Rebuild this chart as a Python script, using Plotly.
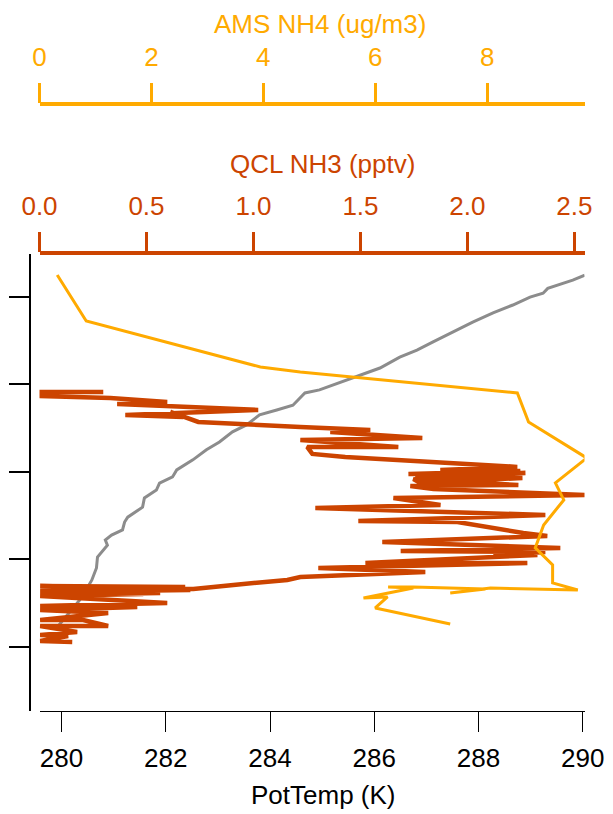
import plotly.graph_objects as go

# ---------------- data ----------------
# Potential temperature profile (K) vs altitude (arbitrary height units, unlabeled axis)
pot_temp = [279.92, 280.06, 280.35, 280.50, 280.58, 280.67, 280.69, 280.88, 280.84, 280.96,
            281.17, 281.21, 281.27, 281.555, 281.59, 281.82, 281.88, 282.13, 282.21, 282.52,
            282.78, 283.03, 283.28, 283.55, 283.80, 284.13, 284.44, 284.57, 284.67, 284.95,
            285.20, 285.59, 286.11, 286.49, 286.82, 287.12, 287.51, 287.89, 288.28, 288.66,
            288.99, 289.24, 289.33, 289.81, 290.04]
pot_alt = [245, 266, 307, 336, 352, 380, 405, 432, 444, 455,
           467, 485, 496, 519, 540, 558, 574, 588, 604, 627,
           650, 668, 691, 707, 730, 741, 752, 768, 780, 787,
           798, 814, 837, 862, 878, 896, 919, 942, 963, 981,
           999, 1008, 1019, 1038, 1049]

# QCL NH3 (pptv)
qcl_nh3 = [0.298, 0.003, 0.003, 0.331, 0.597, 0.363, 1.022, 0.401, 0.672, 0.611,
           0.742, 1.219, 1.546, 1.359, 1.789, 1.219, 1.677, 1.251, 1.275, 1.429,
           2.233, 1.873, 2.247, 1.724, 2.271, 1.756, 2.257, 1.780, 1.747, 2.238,
           1.733, 1.841, 2.56, 1.654, 1.874, 1.289, 2.364, 1.490, 1.953, 2.261,
           2.373, 1.602, 2.434, 1.688, 2.364, 2.121, 2.327, 1.523, 2.28, 1.303,
           1.803, 1.219, 1.158, 0.906, 0.719, 0.003, 0.681, 0.003, 0.705, 0.003,
           0.564, 0.003, 0.485, 0.003, 0.597, 0.003, 0.457, 0.003, 0.321, 0.003,
           0.204, 0.321, 0.003, 0.176, 0.003, 0.134, 0.003, 0.153]
qcl_alt = [782.2, 782, 773, 768.5, 759.3, 754.8, 741.1, 729.7, 725.1, 736.6,
           713.8, 702.4, 695.5, 691, 677.2, 672.7, 656.7, 656.7, 640.7, 633.8,
           611, 603.9, 601.6, 595, 597, 587.9, 585.6, 574.2, 583, 569.6,
           567.3, 560.5, 546.8, 539.9, 523.9, 517, 501, 487.3, 485, 459.9,
           453, 439.3, 425.6, 418.7, 416.5, 409.6, 409.6, 391.3, 391.3, 379.9,
           370.7, 359.3, 352.5, 341.1, 332, 338.8, 336.5, 331.9, 329.7, 325.1,
           322.7, 318.2, 320.6, 315.9, 300, 293.1, 290.8, 284, 277.1, 261.1,
           261.1, 247.4, 247.4, 233.7, 226.8, 224.5, 212.9, 210.6]

# AMS NH4 (ug/m3)
ams_nh4 = [0.317, 0.835, 3.947, 4.66, 8.54, 8.74, 9.78, 9.22, 9.37, 9.01,
           8.86, 9.17, 9.17, 9.62, 8.06, 7.34, 7.97, 6.68, 6.23, 6.68,
           5.79, 6.22, 6.0, 7.34]
ams_alt = [1049.6, 944.5, 839.3, 827.9, 780, 713.7, 631.4, 574.3, 535.4, 478.3,
           425.8, 386.9, 345.7, 329.6, 334.2, 322.7, 331.9, 336.5, 336.5, 334.2,
           311.4, 313.7, 288.6, 252]

pot_ticks = [280, 282, 284, 286, 288, 290]
qcl_ticks = [0.0, 0.5, 1.0, 1.5, 2.0, 2.5]
qcl_ticktext = ["0.0", "0.5", "1.0", "1.5", "2.0", "2.5"]
ams_ticks = [0, 2, 4, 6, 8]
alt_ticks = [200, 400, 600, 800, 1000]

# ---------------- styling ----------------
W, H = 613, 814
FONT = "Liberation Sans, Arial, sans-serif"
FS = 26
GRAY = "#8c8c8c"
RED = "#cc4400"
ORANGE = "#ffaa00"

def px(x):
    return x / W

def py(y):
    return 1 - y / H

x_dom = [px(39.5), px(584.5)]
y_dom = [py(711), py(254)]

fig = go.Figure()
fig.add_trace(go.Scatter(x=pot_temp, y=pot_alt, mode="lines", xaxis="x", yaxis="y",
                         line=dict(color=GRAY, width=3), showlegend=False))
fig.add_trace(go.Scatter(x=qcl_nh3, y=qcl_alt, mode="lines", xaxis="x2", yaxis="y",
                         line=dict(color=RED, width=4.5), showlegend=False))
fig.add_trace(go.Scatter(x=ams_nh4, y=ams_alt, mode="lines", xaxis="x3", yaxis="y",
                         line=dict(color=ORANGE, width=3), showlegend=False))

fig.update_layout(
    width=W, height=H,
    margin=dict(l=0, r=0, t=0, b=0, autoexpand=False),
    paper_bgcolor="white", plot_bgcolor="white",
    font=dict(family=FONT, size=FS, color="black"),
    xaxis=dict(domain=x_dom, range=[279.577, 290.035], anchor="y", automargin=False,
               tickvals=pot_ticks, ticks="outside", ticklen=20, tickwidth=1.3,
               tickcolor="black", showline=True, linecolor="black", linewidth=1.3,
               showgrid=False, zeroline=False,
               tickfont=dict(family=FONT, size=FS, color="black"), ticklabelstandoff=4),
    xaxis2=dict(domain=x_dom, range=[0, 2.547], overlaying="x", side="top",
                anchor="free", position=py(253.3), automargin=False,
                tickvals=qcl_ticks, ticktext=qcl_ticktext, ticks="outside", ticklen=20,
                tickwidth=3, tickcolor=RED, showline=True, linecolor=RED, linewidth=3.5,
                showgrid=False, zeroline=False,
                tickfont=dict(family=FONT, size=FS, color=RED), ticklabelstandoff=6),
    xaxis3=dict(domain=x_dom, range=[0, 9.74], overlaying="x", side="top",
                anchor="free", position=py(104.3), automargin=False,
                tickvals=ams_ticks, ticks="outside", ticklen=20,
                tickwidth=3, tickcolor=ORANGE, showline=True, linecolor=ORANGE, linewidth=3.5,
                showgrid=False, zeroline=False,
                tickfont=dict(family=FONT, size=FS, color=ORANGE), ticklabelstandoff=6),
    yaxis=dict(domain=y_dom, range=[53, 1097.6], anchor="free", position=px(30),
               automargin=False,
               tickvals=alt_ticks, showticklabels=False, ticks="outside", ticklen=20,
               tickwidth=1.6, tickcolor="black", showline=True, linecolor="black",
               linewidth=1.7, showgrid=False, zeroline=False),
    annotations=[
        dict(text="AMS NH4 (ug/m3)", x=px(320), y=py(24), xref="paper", yref="paper",
             xanchor="center", yanchor="middle", showarrow=False,
             font=dict(family=FONT, size=FS, color=ORANGE)),
        dict(text="QCL NH3 (pptv)", x=px(322), y=py(164), xref="paper", yref="paper",
             xanchor="center", yanchor="middle", showarrow=False,
             font=dict(family=FONT, size=FS, color=RED)),
        dict(text="PotTemp (K)", x=px(323), y=py(795), xref="paper", yref="paper",
             xanchor="center", yanchor="middle", showarrow=False,
             font=dict(family=FONT, size=FS, color="black")),
    ],
)

fig.write_html("out.html", config={"displayModeBar": False},
               post_script="document.body.style.margin='0';")
